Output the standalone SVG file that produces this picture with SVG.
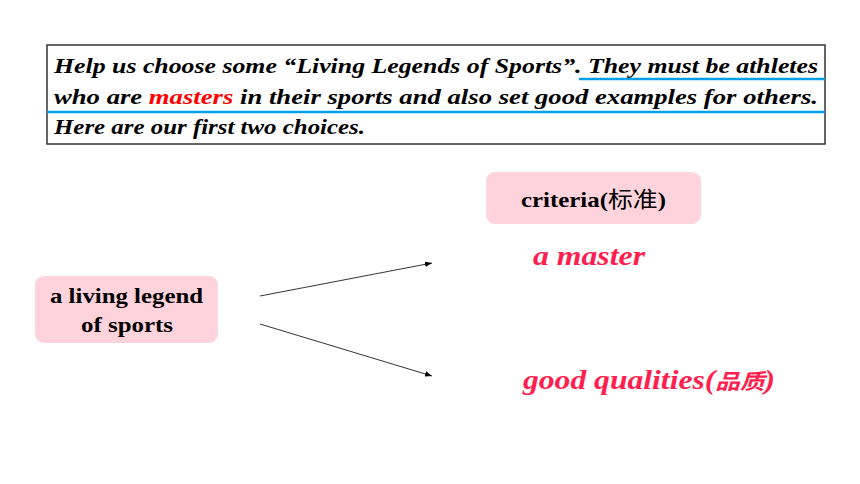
<svg xmlns="http://www.w3.org/2000/svg" width="860" height="484" viewBox="0 0 860 484">
<style>
.intro{font-weight:bold;font-style:italic;font-size:22px;fill:#000}
.node{fill:#ffd3dc}
.lbl{font-weight:bold;font-size:22px;fill:#000}
.red{font-weight:bold;font-style:italic;font-size:27px;fill:#ff1f4f}
.conn{stroke:#000;stroke-width:0.8;fill:none}
.ul{stroke:#00a0e6;stroke-width:2.5}
</style>
<defs>
<marker id="ah" viewBox="0 0 10 10" refX="10" refY="5" markerWidth="7" markerHeight="7" markerUnits="userSpaceOnUse" orient="auto">
<path d="M0,1 L10,5 L0,9 z" fill="#000"/>
</marker>
</defs>
<rect width="860" height="484" fill="#fff"/>
<g id="intro" font-family="Liberation Serif, Times New Roman, serif">
<rect x="47" y="45" width="778" height="99" fill="#fff" stroke="#333" stroke-width="1.5"/>
<text class="intro" x="54" y="73" textLength="764" lengthAdjust="spacingAndGlyphs">Help us choose some “Living Legends of Sports”. They must be athletes</text>
<text class="intro" x="54" y="104" textLength="764" lengthAdjust="spacingAndGlyphs">who are <tspan fill="#ff0000">masters</tspan> in their sports and also set good examples for others.</text>
<text class="intro" x="54" y="134" textLength="311" lengthAdjust="spacingAndGlyphs">Here are our first two choices.</text>
<line class="ul" x1="579" y1="79" x2="825" y2="79"/>
<line class="ul" x1="47" y1="112" x2="825" y2="112"/>
</g>
<g id="legend" font-family="Liberation Serif, Times New Roman, serif">
<rect class="node" x="35" y="276" width="183" height="67" rx="9"/>
<text class="lbl" x="50" y="303" textLength="153" lengthAdjust="spacingAndGlyphs">a living legend</text>
<text class="lbl" x="81" y="332" textLength="92" lengthAdjust="spacingAndGlyphs">of sports</text>
</g>
<g id="criteria" font-family="Liberation Serif, Times New Roman, serif">
<rect class="node" x="486" y="172" width="215" height="52" rx="9"/>
<text class="lbl" x="521" y="207" font-size="20" textLength="145" lengthAdjust="spacingAndGlyphs">criteria(<tspan font-family="Noto Sans CJK SC, sans-serif" font-weight="normal">标准</tspan>)</text>
</g>
<g id="master" font-family="Liberation Serif, Times New Roman, serif">
<text class="red" x="533" y="265" textLength="112" lengthAdjust="spacingAndGlyphs">a master</text>
</g>
<g id="qualities" font-family="Liberation Serif, Times New Roman, serif">
<text class="red" x="523" y="389" textLength="252" lengthAdjust="spacingAndGlyphs">good qualities(<tspan font-family="Noto Sans CJK SC, sans-serif" font-size="21">品质</tspan>)</text>
</g>
<g id="connectors">
<line class="conn" x1="260" y1="296" x2="432" y2="263" marker-end="url(#ah)"/>
<line class="conn" x1="260" y1="324" x2="432" y2="376" marker-end="url(#ah)"/>
</g>
</svg>
